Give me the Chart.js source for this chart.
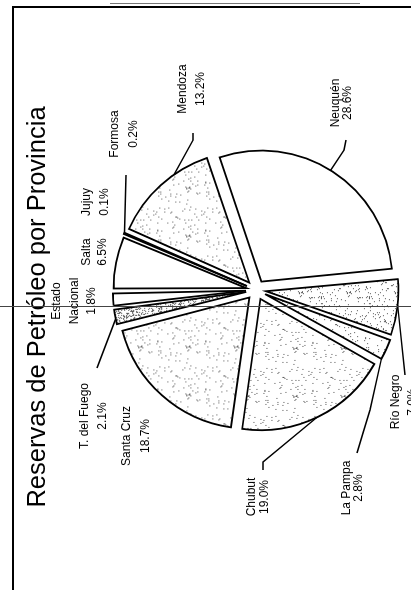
<!DOCTYPE html>
<html>
<head>
<meta charset="utf-8">
<script src="https://cdn.jsdelivr.net/npm/chart.js@4.4.1/dist/chart.umd.min.js"></script>
<style>
  html, body { margin: 0; padding: 0; background: #fff; overflow: hidden; }
  body { width: 411px; height: 590px; position: relative; }
  #giro { position: absolute; left: 0; top: 0; width: 590px; height: 411px;
          transform-origin: 0 0; transform: translate(0, 590px) rotate(-90deg); }
  .linea { position: absolute; background: #000; }
</style>
</head>
<body>
<div class="linea" style="left:12px;top:7px;width:2px;height:583px"></div>
<div class="linea" style="left:12px;top:6px;width:399px;height:2px"></div>
<div class="linea" style="left:110px;top:3px;width:250px;height:1px;background:#777"></div>
<div id="giro"><canvas id="torta" width="590" height="411"></canvas></div>
<div class="linea" style="left:0;top:306px;width:411px;height:1px;background:#444"></div>
<script>
const titulo = 'Reservas de Petróleo por Provincia';
const provincias = ['Neuquén', 'Río Negro', 'La Pampa', 'Chubut', 'Santa Cruz', 'T. del Fuego',
                    'Estado\nNacional', 'Salta', 'Jujuy', 'Formosa', 'Mendoza'];
const porcentajes = [28.6, 7.0, 2.8, 19.0, 18.7, 2.1, 1.8, 6.5, 0.1, 0.2, 13.2];
const tramas = ['blanco', 'medio', 'claro', 'claro', 'claro', 'denso',
                'blanco', 'blanco', 'blanco', 'blanco', 'claro'];

// posicion de cada rotulo (en el grafico sin girar) y su linea guia
const rotulosPos = [
  { x: 487, y: [336, 348], guia: [[450, 346], [440, 344]], t: 0.49 },
  { x: 188, y: [396, 413], guia: [[215, 405]], t: 0.46 },
  { x: 102, y: [347, 359], guia: [[137, 357], [157, 363], [180, 370]], t: 0.95 },
  { x: 93, y: [252, 265], guia: [[120, 263], [128, 263]], t: 0.51 },
  { x: 154, y: [127, 146] },
  { x: 174, y: [85, 103], guia: [[222, 97]], t: 0.4 },
  { x: 289, y: [57, 75, 92] },
  { x: 338, y: [87, 103] },
  { x: 388, y: [87, 105] },
  { x: 456, y: [115, 134], guia: [[415, 126]], t: 0.5 },
  { x: 501, y: [183, 201], guia: [[457, 193], [450, 193]], t: 0.66 }
];

// punteado tipo fotocopia
function trama(ctx, n) {
  const c = document.createElement('canvas');
  c.width = 48; c.height = 48;
  const g = c.getContext('2d');
  g.fillStyle = '#fff';
  g.fillRect(0, 0, 48, 48);
  g.fillStyle = '#555';
  for (let i = 1; i <= n; i++) {
    let h = Math.imul(i, 2654435761);
    h ^= h >>> 15;
    h = Math.imul(h, 2246822519);
    h ^= h >>> 13;
    h >>>= 0;
    g.fillRect(h % 48, (h >>> 16) % 48, 1, 1);
  }
  return ctx.createPattern(c, 'repeat');
}

function ajuste(el) {
  const circ = el.endAngle - el.startAngle;
  return (el.options.offset / 4) * (1 - Math.sin(Math.min(Math.PI, circ)));
}

function puntoArco(el, t) {
  const p = el.getProps(['x', 'y', 'startAngle', 'endAngle', 'outerRadius']);
  const circ = p.endAngle - p.startAngle;
  const medio = (p.startAngle + p.endAngle) / 2;
  const desp = el.options.offset / 4;
  const r = p.outerRadius + ajuste(el);
  const a = p.startAngle + t * circ;
  return [p.x + Math.cos(medio) * desp + Math.cos(a) * r,
          p.y + Math.sin(medio) * desp + Math.sin(a) * r];
}

const rotulos = {
  id: 'rotulos',
  beforeDatasetsDraw(chart) {
    // las porciones finas no deben sobresalir tanto
    const meta = chart.getDatasetMeta(0);
    meta.data.forEach(el => {
      el.outerRadius = meta.controller.outerRadius - 0.75 * ajuste(el);
    });
  },
  afterDatasetsDraw(chart) {
    const ctx = chart.ctx;
    const arcos = chart.getDatasetMeta(0).data;
    ctx.save();
    ctx.fillStyle = '#000';
    ctx.strokeStyle = '#000';
    ctx.textAlign = 'center';
    ctx.textBaseline = 'alphabetic';
    ctx.font = '25.5px "Liberation Sans", Arial, sans-serif';
    ctx.fillText(titulo, 283, 45);

    ctx.font = '12px "Liberation Sans", Arial, sans-serif';
    ctx.textBaseline = 'middle';
    provincias.forEach((nombre, i) => {
      const pos = rotulosPos[i];
      const lineas = nombre.split('\n').concat(porcentajes[i].toFixed(1) + '%');
      lineas.forEach((txt, j) => ctx.fillText(txt, pos.x, pos.y[j]));
      if (pos.guia) {
        const fin = puntoArco(arcos[i], pos.t);
        ctx.lineWidth = 1.4;
        ctx.beginPath();
        ctx.moveTo(pos.guia[0][0], pos.guia[0][1]);
        pos.guia.slice(1).forEach(q => ctx.lineTo(q[0], q[1]));
        ctx.lineTo(fin[0], fin[1]);
        ctx.stroke();
      }
    });
    ctx.restore();
  }
};

const lienzo = document.getElementById('torta');
const c2d = lienzo.getContext('2d');
const rellenos = {
  blanco: '#ffffff',
  claro: trama(c2d, 80),
  medio: trama(c2d, 150),
  denso: trama(c2d, 700)
};

new Chart(lienzo, {
  type: 'pie',
  data: {
    labels: provincias,
    datasets: [{
      data: porcentajes,
      backgroundColor: tramas.map(t => rellenos[t]),
      borderColor: '#000',
      borderWidth: 1.8,
      borderJoinStyle: 'miter',
      offset: 40
    }]
  },
  options: {
    responsive: false,
    animation: false,
    devicePixelRatio: 1,
    events: [],
    rotation: 71.4,
    radius: 131,
    layout: { padding: { left: 10, right: 0, top: 101, bottom: 0 } },
    plugins: {
      legend: { display: false },
      tooltip: { enabled: false },
      title: { display: false }
    }
  },
  plugins: [rotulos]
});
</script>
</body>
</html>
